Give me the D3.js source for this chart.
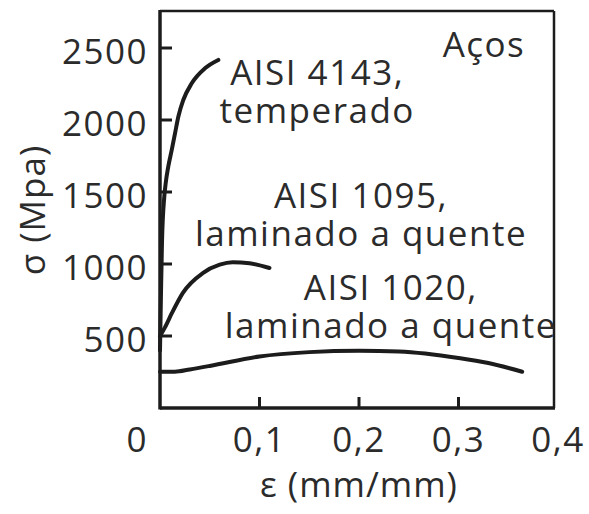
<!DOCTYPE html>
<html><head><meta charset="utf-8">
<script src="https://cdn.jsdelivr.net/npm/d3@7"></script>
<style>
html,body{margin:0;padding:0;background:#fff;}
text{font-family:"Open Sans",sans-serif;fill:#2b2b2b;}
</style></head>
<body><svg id="c" width="589" height="514"></svg>
<script>
// Data (strain mm/mm, stress MPa)
const aisi4143 = [[0,400],[0.001,800],[0.002,1150],[0.0043,1467],[0.0057,1560],[0.0083,1676],[0.0118,1792],[0.0151,1907],[0.0184,2023],[0.0234,2139],[0.0319,2255],[0.0452,2359],[0.0586,2417]];
const aisi1095 = [[0,500],[0.005,560],[0.012,660],[0.023,800],[0.043,937],[0.060,995],[0.073,1012],[0.090,1005],[0.110,972]];
const aisi1020 = [[0,252],[0.015,252],[0.030,268],[0.050,292],[0.100,358],[0.150,388],[0.200,398],[0.240,392],[0.300,347],[0.330,312],[0.364,252]];
const xTicks = [0.1,0.2,0.3,0.4];
const xTickLabels = ["0,1","0,2","0,3","0,4"];
const yTicks = [500,1000,1500,2000,2500];
const yTickLabels = ["500","1000","1500","2000","2500"];
const labels = [
  {lines:["AISI 4143,","temperado"], x:0.158, y:2240},
  {lines:["AISI 1095,","laminado a quente"], x:0.202, y:1390},
  {lines:["AISI 1020,","laminado a quente"], x:0.232, y:750}
];

const svg = d3.select("#c");
const x = d3.scaleLinear().domain([0,0.4]).range([160,558]);
const y = d3.scaleLinear().domain([0,2500]).range([408,48]);
const frameL = 160, frameR = 554, frameT = 11, frameB = 408;
const ink = "#1c1c1c";

// frame
svg.append("line").attr("x1",frameL).attr("x2",frameR).attr("y1",frameT).attr("y2",frameT).attr("stroke",ink).attr("stroke-width",2.5);
svg.append("line").attr("x1",frameR).attr("x2",frameR).attr("y1",frameT).attr("y2",frameB).attr("stroke",ink).attr("stroke-width",2.5);
svg.append("line").attr("x1",frameL).attr("x2",frameR+1).attr("y1",frameB).attr("y2",frameB).attr("stroke",ink).attr("stroke-width",3.5);
svg.append("line").attr("x1",frameL).attr("x2",frameL).attr("y1",frameT-1).attr("y2",frameB+1.5).attr("stroke",ink).attr("stroke-width",3.5);

// ticks (inward)
svg.selectAll(".xt").data(xTicks.slice(0,3)).join("line")
  .attr("x1",d=>x(d)).attr("x2",d=>x(d)).attr("y1",frameB).attr("y2",frameB-11)
  .attr("stroke",ink).attr("stroke-width",3);
svg.selectAll(".yt").data(yTicks).join("line")
  .attr("x1",frameL).attr("x2",frameL+12).attr("y1",d=>y(d)).attr("y2",d=>y(d))
  .attr("stroke",ink).attr("stroke-width",3);

// tick labels
const fs = 35;
svg.selectAll(".xl").data(xTicks).join("text")
  .attr("x",(d,i)=>x(d)).attr("y",452).attr("text-anchor","middle")
  .attr("font-size",fs).attr("letter-spacing",1.5)
  .text((d,i)=>xTickLabels[i]);
svg.append("text").attr("x",148).attr("y",452).attr("text-anchor","end")
  .attr("font-size",fs).attr("letter-spacing",1.5).text("0");
svg.selectAll(".yl").data(yTicks).join("text")
  .attr("x",148).attr("y",d=>y(d)+4).attr("dy","0.35em").attr("text-anchor","end")
  .attr("font-size",fs).attr("letter-spacing",1.5)
  .text((d,i)=>yTickLabels[i]);

// axis titles
svg.append("text").attr("transform","translate(45,210) rotate(-90)")
  .attr("text-anchor","middle").attr("font-size",fs).attr("letter-spacing",1)
  .text("σ (Mpa)");
svg.append("text").attr("x",x(0.2)).attr("y",497).attr("text-anchor","middle")
  .attr("font-size",fs).attr("letter-spacing",1)
  .text("ε (mm/mm)");

// curves
const line = d3.line().x(d=>x(d[0])).y(d=>y(d[1])).curve(d3.curveMonotoneX);
[aisi4143, aisi1095, aisi1020].forEach(s=>{
  svg.append("path").attr("d",line(s)).attr("fill","none")
    .attr("stroke",ink).attr("stroke-width",4).attr("stroke-linecap","round");
});

// annotations
labels.forEach(l=>{
  const t = svg.append("text").attr("text-anchor","middle").attr("font-size",fs).attr("letter-spacing",1.5);
  l.lines.forEach((s,i)=>{
    t.append("tspan").attr("x",x(l.x)).attr("y",y(l.y)+i*38).text(s);
  });
});
svg.append("text").attr("x",484).attr("y",57).attr("text-anchor","middle")
  .attr("font-size",fs).attr("letter-spacing",1.5).text("Aços");
</script></body></html>
